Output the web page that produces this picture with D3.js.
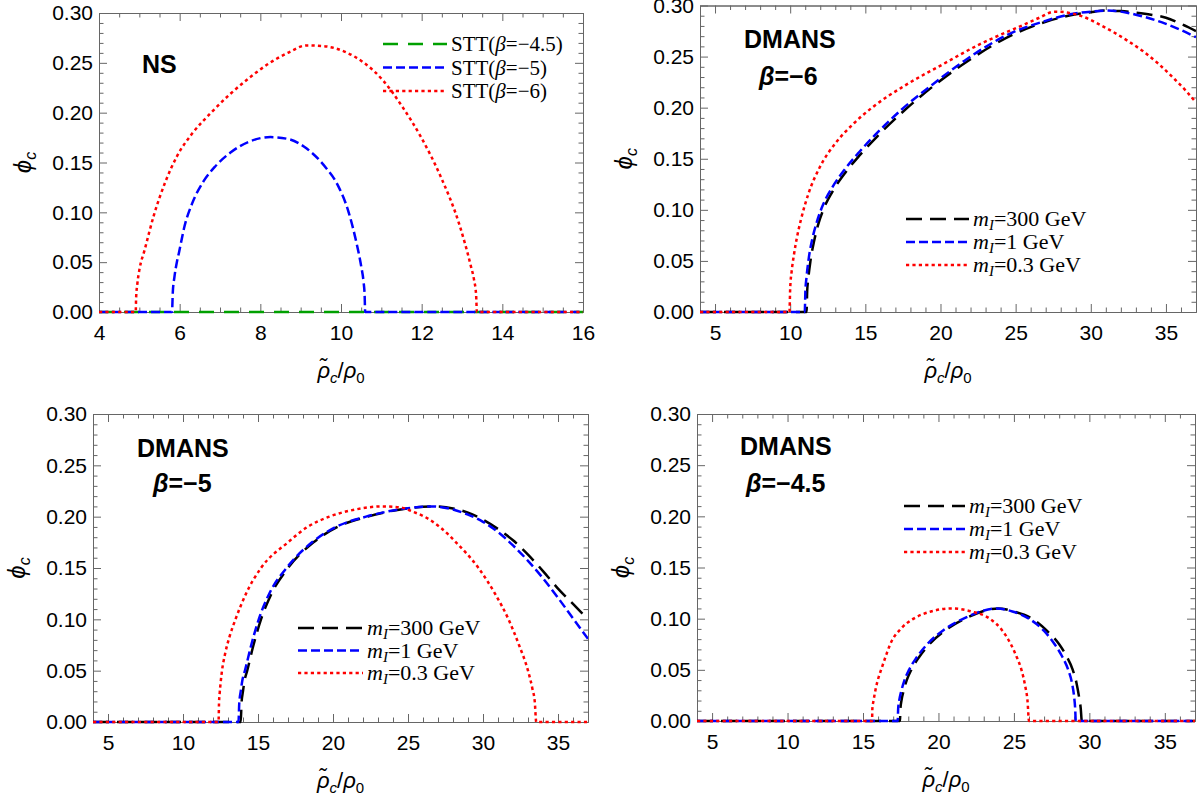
<!DOCTYPE html>
<html><head><meta charset="utf-8">
<script src="https://cdn.jsdelivr.net/npm/d3@7"></script>
<style>body{margin:0;background:#fff}</style>
</head><body>
<svg id="c" width="1198" height="803" xmlns="http://www.w3.org/2000/svg"></svg>
<script>
// ---------- tick labels ----------
const yTickVals = [0, 0.05, 0.10, 0.15, 0.20, 0.25, 0.30];
const nsXTickVals = [4, 6, 8, 10, 12, 14, 16];
const dmXTickVals = [5, 10, 15, 20, 25, 30, 35];

// ---------- NS panel series ----------
const ns_beta45 = [[4,0],[16,0]];
const ns_beta5 = [[4,0],[5.81,0],[5.83,0.02],[5.87,0.035],[5.93,0.05],[5.98,0.059],[6.12,0.086],[6.31,0.109],[6.59,0.131],[6.88,0.146],[7.26,0.16],[7.73,0.171],[8.25,0.1755],[8.7,0.1735],[9.15,0.164],[9.62,0.145],[9.91,0.128],[10.19,0.1],[10.38,0.07],[10.5,0.046],[10.56,0.03],[10.585,0.018],[10.6,0],[16,0]];
const ns_beta6 = [[4,0],[4.91,0],[4.92,0.014],[4.95,0.028],[5.0,0.042],[5.13,0.062],[5.36,0.097],[5.65,0.131],[5.93,0.156],[6.31,0.179],[6.78,0.2],[7.26,0.219],[7.73,0.235],[8.2,0.249],[8.68,0.26],[9.15,0.2675],[9.62,0.2665],[10.1,0.261],[10.57,0.25],[11.05,0.232],[11.52,0.206],[11.99,0.175],[12.47,0.136],[12.94,0.087],[13.22,0.046],[13.3,0.032],[13.35,0.017],[13.37,0],[16,0]];

// ---------- DMANS beta=-6 ----------
const b6_m300 = [[4,0],[11.09,0],[11.13,0.02],[11.2,0.032],[11.35,0.05],[11.6,0.07],[11.85,0.085],[12.2,0.1],[12.9,0.12],[13.7,0.137],[14.6,0.153],[15.8,0.172],[17.5,0.196],[19.6,0.222],[21.75,0.245],[24.9,0.272],[27,0.284],[28.5,0.29],[30,0.2935],[31,0.295],[32,0.2945],[33,0.293],[34,0.291],[35,0.288],[36,0.282],[37,0.275]];
const b6_m1 = [[4,0],[10.97,0],[11.01,0.02],[11.08,0.033],[11.23,0.052],[11.48,0.072],[11.75,0.087],[12.1,0.102],[12.8,0.122],[13.6,0.139],[14.5,0.155],[15.7,0.174],[17.4,0.198],[19.5,0.223],[21.6,0.246],[24.7,0.273],[27,0.285],[28.5,0.291],[30,0.294],[31,0.295],[32,0.294],[33,0.291],[34,0.287],[35,0.282],[36,0.276],[37,0.269]];
const b6_m03 = [[4,0],[9.95,0],[10.0,0.023],[10.1,0.04],[10.25,0.056],[10.45,0.073],[10.71,0.09],[11.22,0.116],[11.98,0.142],[13.0,0.165],[14.26,0.185],[15.53,0.201],[17.56,0.221],[20.1,0.242],[22.6,0.262],[25.2,0.279],[26.5,0.2875],[27.6,0.294],[28.5,0.293],[29.5,0.289],[30.5,0.282],[31.5,0.274],[32.5,0.265],[33.5,0.255],[34.5,0.243],[35.5,0.229],[36.3,0.217],[37,0.205]];

// ---------- DMANS beta=-5 ----------
const b5_m300 = [[4,0],[13.85,0],[13.9,0.018],[14.0,0.03],[14.1,0.04],[14.28,0.05],[14.7,0.075],[15.2,0.1],[15.9,0.125],[17.0,0.15],[18.7,0.175],[20.3,0.19],[22.3,0.2],[24.5,0.207],[26.6,0.21],[28,0.208],[29,0.204],[30,0.197],[31,0.188],[32,0.177],[33,0.163],[34,0.147],[35,0.13],[36,0.115],[37,0.1]];
const b5_m1 = [[4,0],[13.7,0],[13.75,0.018],[13.85,0.03],[13.95,0.04],[14.13,0.05],[14.55,0.075],[15.05,0.1],[15.75,0.125],[16.9,0.15],[18.6,0.175],[20.2,0.19],[22.2,0.2],[24.4,0.207],[26.6,0.21],[28,0.207],[29,0.202],[30,0.195],[31,0.185],[32,0.172],[33,0.157],[34,0.14],[35,0.121],[36,0.101],[37,0.081]];
const b5_m03 = [[4,0],[12.37,0],[12.4,0.018],[12.45,0.029],[12.5,0.037],[12.6,0.05],[12.8,0.066],[13.1,0.083],[13.5,0.1],[14.2,0.125],[15.2,0.15],[17.0,0.175],[18.3,0.19],[19.75,0.2],[21.5,0.207],[23.3,0.21],[24.5,0.209],[25.3,0.205],[26.1,0.2],[27.2,0.189],[28.2,0.175],[29.7,0.15],[30.8,0.125],[31.7,0.1],[32.4,0.075],[33.0,0.05],[33.3,0.032],[33.45,0.02],[33.55,0],[37,0]];

// ---------- DMANS beta=-4.5 ----------
const b45_m300 = [[4,0],[17.45,0],[17.48,0.012],[17.55,0.02],[17.7,0.03],[17.9,0.04],[18.2,0.05],[18.7,0.062],[19.4,0.075],[20.5,0.089],[21.9,0.101],[23.0,0.1075],[23.95,0.11],[25.0,0.107],[26.2,0.1],[27.2,0.088],[28.0,0.075],[28.5,0.063],[28.9,0.05],[29.15,0.037],[29.3,0.025],[29.43,0.012],[29.5,0],[37,0]];
const b45_m1 = [[4,0],[17.3,0],[17.33,0.012],[17.4,0.02],[17.55,0.03],[17.75,0.04],[18.05,0.05],[18.55,0.062],[19.25,0.075],[20.35,0.089],[21.8,0.101],[22.9,0.1075],[23.85,0.11],[24.9,0.107],[26.0,0.1],[27.0,0.088],[27.7,0.075],[28.2,0.063],[28.6,0.05],[28.85,0.037],[28.98,0.025],[29.06,0.012],[29.1,0],[37,0]];
const b45_m03 = [[4,0],[15.6,0],[15.62,0.012],[15.7,0.02],[15.85,0.032],[16.0,0.041],[16.2,0.05],[16.5,0.063],[16.8,0.075],[17.5,0.09],[18.35,0.1],[19.5,0.107],[20.9,0.11],[22.2,0.107],[23.4,0.1],[24.2,0.089],[24.8,0.075],[25.2,0.062],[25.5,0.05],[25.75,0.034],[25.9,0.02],[26.0,0],[37,0]];

// ---------- labels ----------
const nsLegend = ["−4.5", "−5", "−6"];
const dmLegend = ["300", "1", "0.3"];

// ---------- styles ----------
const STY = {
  green: {color: "#00a000", dash: "15,10"},
  blue:  {color: "#0000ff", dash: "9,4"},
  red:   {color: "#ff0000", dash: "3.2,3.2"},
  black: {color: "#000000", dash: "16,8"}
};

const svg = d3.select("#c");
svg.append("rect").attr("width",1198).attr("height",803).attr("fill","#fff");

const FRAME = "#666";
let clipId = 0;

function panel(cfg){
  const x = d3.scaleLinear().domain(cfg.xd).range([cfg.l, cfg.r]);
  const y = d3.scaleLinear().domain([0, 0.30]).range([cfg.b, cfg.t]);
  const g = svg.append("g");
  const xMinor = d3.range(cfg.xd[0], cfg.xd[1] + 1e-9, cfg.xminor).filter(v => !cfg.xticks.some(t => Math.abs(t - v) < 1e-9));
  const yMinor = d3.range(0, 0.3001, 0.01).filter(v => !yTickVals.some(t => Math.abs(t - v) < 1e-9));

  function styleAxis(sel){
    sel.select(".domain").attr("stroke", FRAME).attr("stroke-width", 1);
    sel.selectAll(".tick line").attr("stroke", FRAME).attr("stroke-width", 1);
    sel.selectAll("text").attr("fill", "#000").attr("font-family", "'Liberation Sans', Arial, sans-serif").attr("font-size", 21);
  }
  g.append("g").attr("transform", `translate(0,${cfg.b})`)
    .call(d3.axisBottom(x).tickValues(cfg.xticks).tickSizeInner(-8).tickSizeOuter(0).tickPadding(13).tickFormat(d3.format("d")))
    .call(styleAxis);
  g.append("g").attr("transform", `translate(0,${cfg.b})`)
    .call(d3.axisBottom(x).tickValues(xMinor).tickSizeInner(-4.5).tickSizeOuter(0).tickFormat(""))
    .call(styleAxis);
  g.append("g").attr("transform", `translate(0,${cfg.t})`)
    .call(d3.axisTop(x).tickValues(cfg.xticks).tickSizeInner(-8).tickSizeOuter(0).tickFormat(""))
    .call(styleAxis);
  g.append("g").attr("transform", `translate(0,${cfg.t})`)
    .call(d3.axisTop(x).tickValues(xMinor).tickSizeInner(-4.5).tickSizeOuter(0).tickFormat(""))
    .call(styleAxis);
  g.append("g").attr("transform", `translate(${cfg.l},0)`)
    .call(d3.axisLeft(y).tickValues(yTickVals).tickSizeInner(-8).tickSizeOuter(0).tickPadding(6).tickFormat(d3.format(".2f")))
    .call(styleAxis);
  g.append("g").attr("transform", `translate(${cfg.l},0)`)
    .call(d3.axisLeft(y).tickValues(yMinor).tickSizeInner(-4.5).tickSizeOuter(0).tickFormat(""))
    .call(styleAxis);
  g.append("g").attr("transform", `translate(${cfg.r},0)`)
    .call(d3.axisRight(y).tickValues(yTickVals).tickSizeInner(-8).tickSizeOuter(0).tickFormat(""))
    .call(styleAxis);
  g.append("g").attr("transform", `translate(${cfg.r},0)`)
    .call(d3.axisRight(y).tickValues(yMinor).tickSizeInner(-4.5).tickSizeOuter(0).tickFormat(""))
    .call(styleAxis);

  const id = "clip" + (clipId++);
  svg.append("clipPath").attr("id", id).append("rect")
    .attr("x", cfg.l).attr("y", cfg.t - 2).attr("width", cfg.r - cfg.l).attr("height", cfg.b - cfg.t + 4);
  const line = d3.line().x(d => x(d[0])).y(d => y(d[1])).curve(d3.curveMonotoneX);
  const lg = g.append("g").attr("clip-path", `url(#${id})`);
  cfg.series.forEach(s => {
    lg.append("path").attr("d", line(s.data)).attr("fill", "none")
      .attr("stroke", STY[s.style].color).attr("stroke-width", 2.5)
      .attr("stroke-dasharray", STY[s.style].dash);
  });

  const xt = g.append("text").attr("x", (cfg.l + cfg.r) / 2).attr("y", cfg.b + 66)
    .attr("text-anchor", "middle").attr("font-family", "'Liberation Sans', Arial, sans-serif").attr("font-size", 22);
  xt.append("tspan").attr("font-style", "italic").text("ρ\u0303");
  xt.append("tspan").attr("font-style", "italic").attr("font-size", 15).attr("dy", 5).text("c");
  xt.append("tspan").attr("dy", -5).text("/");
  xt.append("tspan").attr("font-style", "italic").text("ρ");
  xt.append("tspan").attr("font-size", 15).attr("dy", 5).text("0");

  const yc = (cfg.t + cfg.b) / 2;
  const yt = g.append("text").attr("transform", `translate(${cfg.l - 68},${yc}) rotate(-90)`)
    .attr("text-anchor", "middle").attr("font-family", "'Liberation Sans', Arial, sans-serif").attr("font-size", 24);
  yt.append("tspan").attr("font-style", "italic").text("ϕ");
  yt.append("tspan").attr("font-style", "italic").attr("font-size", 16).attr("dy", 5).text("c");

  cfg.labels.forEach(L => {
    const t = g.append("text").attr("x", L.x).attr("y", L.y)
      .attr("font-family", "'Liberation Sans', Arial, sans-serif").attr("font-weight", "bold").attr("font-size", 25);
    if (L.beta) {
      t.append("tspan").attr("font-style", "italic").text("β");
      t.append("tspan").text("=" + L.beta);
    } else t.text(L.text);
  });

  const lgd = cfg.legend;
  lgd.items.forEach((it, i) => {
    const yy = lgd.y + i * lgd.dy;
    g.append("line").attr("x1", lgd.x1).attr("x2", lgd.x2).attr("y1", yy).attr("y2", yy)
      .attr("stroke", STY[it.style].color).attr("stroke-width", 2.5).attr("stroke-dasharray", STY[it.style].dash);
    const t = g.append("text").attr("x", lgd.x2 + 4).attr("y", yy + 7)
      .attr("font-family", "'Liberation Serif', 'Times New Roman', serif").attr("font-size", lgd.fs);
    if (it.kind === "ns") {
      t.append("tspan").text("STT(");
      t.append("tspan").attr("font-style", "italic").text("β");
      t.append("tspan").text("=" + it.label + ")");
    } else {
      t.append("tspan").attr("font-style", "italic").text("m");
      t.append("tspan").attr("font-style", "italic").attr("font-size", 15).attr("dy", 4).text("I");
      t.append("tspan").attr("dy", -4).text("=" + it.label + " GeV");
    }
  });
}

panel({l:99, r:583, t:13, b:312, xd:[4,16], xticks:nsXTickVals, xminor:0.5,
  series:[{data:ns_beta45, style:"green"},{data:ns_beta5, style:"blue"},{data:ns_beta6, style:"red"}],
  labels:[{x:142, y:73, text:"NS"}],
  legend:{x1:383, x2:447, y:44, dy:23.5, fs:21, items:[
    {kind:"ns", label:nsLegend[0], style:"green"},
    {kind:"ns", label:nsLegend[1], style:"blue"},
    {kind:"ns", label:nsLegend[2], style:"red"}]}
});

panel({l:700, r:1196, t:5.5, b:312, xd:[4,37], xticks:dmXTickVals, xminor:1,
  series:[{data:b6_m300, style:"black"},{data:b6_m1, style:"blue"},{data:b6_m03, style:"red"}],
  labels:[{x:744, y:48, text:"DMANS"},{x:759, y:85, beta:"−6"}],
  legend:{x1:906, x2:969, y:219, dy:23, fs:22, items:[
    {kind:"dm", label:dmLegend[0], style:"black"},
    {kind:"dm", label:dmLegend[1], style:"blue"},
    {kind:"dm", label:dmLegend[2], style:"red"}]}
});

panel({l:93, r:588, t:414, b:722, xd:[4,37], xticks:dmXTickVals, xminor:1,
  series:[{data:b5_m300, style:"black"},{data:b5_m1, style:"blue"},{data:b5_m03, style:"red"}],
  labels:[{x:137, y:457, text:"DMANS"},{x:153, y:492, beta:"−5"}],
  legend:{x1:298, x2:363, y:628, dy:22.5, fs:22, items:[
    {kind:"dm", label:dmLegend[0], style:"black"},
    {kind:"dm", label:dmLegend[1], style:"blue"},
    {kind:"dm", label:dmLegend[2], style:"red"}]}
});

panel({l:697, r:1195, t:414, b:721, xd:[4,37], xticks:dmXTickVals, xminor:1,
  series:[{data:b45_m300, style:"black"},{data:b45_m1, style:"blue"},{data:b45_m03, style:"red"}],
  labels:[{x:740, y:455, text:"DMANS"},{x:746, y:492, beta:"−4.5"}],
  legend:{x1:904, x2:965, y:506, dy:23, fs:22, items:[
    {kind:"dm", label:dmLegend[0], style:"black"},
    {kind:"dm", label:dmLegend[1], style:"blue"},
    {kind:"dm", label:dmLegend[2], style:"red"}]}
});
</script>
</body></html>
